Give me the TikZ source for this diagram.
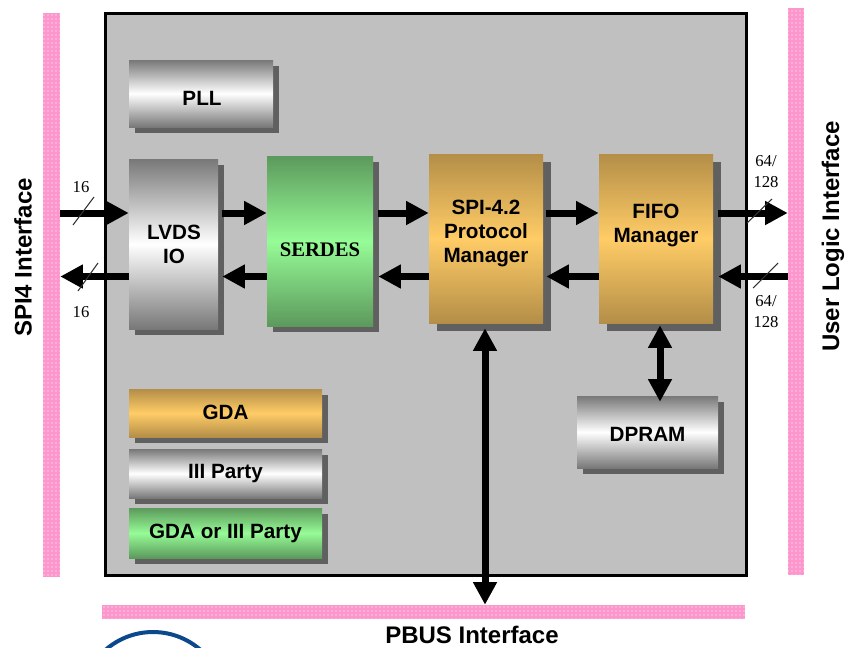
\documentclass[tikz,border=0pt]{standalone}
\usepackage{fontspec}
\setmainfont{Liberation Sans}
\newfontfamily\tnr{Liberation Serif}
\usetikzlibrary{arrows.meta,shadows,patterns}
\definecolor{bg}{RGB}{192,192,192}
\definecolor{shd}{RGB}{96,96,96}
\definecolor{gryE}{RGB}{120,120,120}
\definecolor{grnE}{RGB}{92,153,92}
\definecolor{grnM}{RGB}{150,252,150}
\definecolor{gldE}{RGB}{180,142,72}
\definecolor{gldM}{RGB}{255,204,102}
\definecolor{pinkbus}{RGB}{252,150,204}
\definecolor{logoblue}{RGB}{12,72,140}
\definecolor{slashc}{RGB}{50,50,50}
\begin{document}
\begin{tikzpicture}[x=0.75pt,y=-0.75pt,
  blk/.style={rectangle, inner sep=0pt, draw=none,
    drop shadow={shadow xshift=4.5pt, shadow yshift=-4.5pt, fill=shd, opacity=1}},
  blkw/.style={rectangle, inner sep=0pt, draw=none,
    drop shadow={shadow xshift=6pt, shadow yshift=-6pt, fill=shd, opacity=1}},
  graysh/.style={top color=gryE, bottom color=gryE, middle color=white},
  greensh/.style={top color=grnE, bottom color=grnE, middle color=grnM},
  goldsh/.style={top color=gldE, bottom color=gldE, middle color=gldM},
  lbl/.style={font=\bfseries\fontsize{15.5}{18}\selectfont, align=center, inner sep=0pt},
  num/.style={font=\tnr\fontsize{12.5}{15.75}\selectfont, align=center, inner sep=0pt},
  ttl/.style={font=\bfseries\fontsize{18}{20}\selectfont, inner sep=0pt},
  big/.style={line width=5.25pt, -{Triangle[length=17pt,width=17pt]}},
  dbl/.style={line width=5.25pt, {Triangle[length=17pt,width=17pt]}-{Triangle[length=17pt,width=17pt]}},
  bus/.style={rectangle, inner sep=0pt, draw=none, fill=pinkbus,
    postaction={pattern=dots, pattern color=white}},
  frm/.style={rectangle, inner sep=0pt, draw=black, line width=2.6pt, fill=bg},
  slash/.style={draw=slashc, line width=0.8pt},
]
\useasboundingbox (0,0) rectangle (855,647);

% main frame
\node[frm, minimum width=480.75pt, minimum height=421.5pt] (frame) at (426,294.5) {};

% buses
\node[bus, minimum width=12.75pt, minimum height=423pt] (lbus) at (51.5,295) {};
\node[bus, minimum width=12pt, minimum height=425.25pt] (rbus) at (796,291.5) {};
\node[bus, minimum width=482.25pt, minimum height=10.5pt] (bbus) at (423.5,612) {};

% titles
\node[ttl, rotate=90] (t1) at (23,257.5) {SPI4 Interface};
\node[ttl, rotate=90] (t2) at (833,236.5) {User Logic Interface};
\node[ttl] (t3) at (472,634.5) {PBUS Interface};

% logo arc (partly visible)
\begin{scope}
  \clip (0,0) rectangle (855,647);
  \draw[logoblue, line width=3pt] (153,704) circle[radius=54pt];
\end{scope}

% blocks
\node[blk, graysh, minimum width=108pt, minimum height=50.25pt] (pll) at (201,93.5) {};
\node[blk, graysh, minimum width=66.75pt, minimum height=127.5pt] (lvds) at (173.5,244) {};
\node[blk, greensh, minimum width=79.5pt, minimum height=127.5pt] (serdes) at (320,241) {};
\node[blkw, goldsh, minimum width=85.5pt, minimum height=126.75pt] (spi) at (486,238.5) {};
\node[blkw, goldsh, minimum width=85.5pt, minimum height=126.75pt] (fifo) at (656,238.5) {};
\node[blk, graysh, minimum width=105.75pt, minimum height=54pt] (dpram) at (647.5,432) {};
\node[blk, goldsh, minimum width=144.75pt, minimum height=36pt] (gda) at (225.5,413) {};
\node[blk, graysh, minimum width=144.75pt, minimum height=36.75pt] (third) at (225.5,473.5) {};
\node[blk, greensh, minimum width=144.75pt, minimum height=37.5pt] (either) at (225.5,533) {};

% block texts
\node[lbl] (pllT) at (202,98.5) {PLL};
\node[lbl] (lvdsT) at (174,244.5) {LVDS\\IO};
\node[lbl, font=\tnr\bfseries\fontsize{15.5}{18}\selectfont] (serdesT) at (320,249.5) {SERDES};
\node[lbl] (spiT) at (486,233.5) {SPI-4.2\\Protocol\\Manager};
\node[lbl] (fifoT) at (656,225.5) {FIFO\\Manager};
\node[lbl] (dpramT) at (647.5,434.5) {DPRAM};
\node[lbl] (gdaT) at (225.5,412) {GDA};
\node[lbl] (thirdT) at (225.5,474) {III Party};
\node[lbl] (eitherT) at (225.5,533) {GDA or III Party};

% arrow rows
\coordinate (r1) at (0,213);
\coordinate (r2) at (0,276.5);
\coordinate (cx1) at (485,0);
\coordinate (cx2) at (660,0);

\draw[big] (lbus.east |- r1) -- (lvds.west |- r1);
\draw[big] (lvds.west |- r2) -- (lbus.east |- r2);
\draw[big] ([xshift=3pt]lvds.east |- r1) -- (serdes.west |- r1);
\draw[big] (serdes.west |- r2) -- ([xshift=3pt]lvds.east |- r2);
\draw[big] ([xshift=3.75pt]serdes.east |- r1) -- (spi.west |- r1);
\draw[big] (spi.west |- r2) -- ([xshift=3.75pt]serdes.east |- r2);
\draw[big] ([xshift=2.25pt]spi.east |- r1) -- (fifo.west |- r1);
\draw[big] (fifo.west |- r2) -- ([xshift=2.25pt]spi.east |- r2);
\draw[big] ([xshift=3.75pt]fifo.east |- r1) -- (rbus.west |- r1);
\draw[big] (rbus.west |- r2) -- ([xshift=3.75pt]fifo.east |- r2);

\draw[dbl] ([yshift=-3.75pt]spi.south -| cx1) -- (bbus.north -| cx1);
\draw[dbl] ([yshift=-1.5pt]fifo.south -| cx2) -- ([yshift=-4.5pt]dpram.north -| cx2);

% bus width marks
\draw[slash] (73,225) -- (94,197);
\draw[slash] (78,291) -- (98,263);
\draw[slash] (747,223) -- (772,199);
\draw[slash] (753,288) -- (778,263);

\node[num] (n1) at (81,187) {16};
\node[num] (n2) at (81,312) {16};
\node[num] (n3) at (766,171.5) {64/\\128};
\node[num] (n4) at (766,312) {64/\\128};
\end{tikzpicture}
\end{document}
